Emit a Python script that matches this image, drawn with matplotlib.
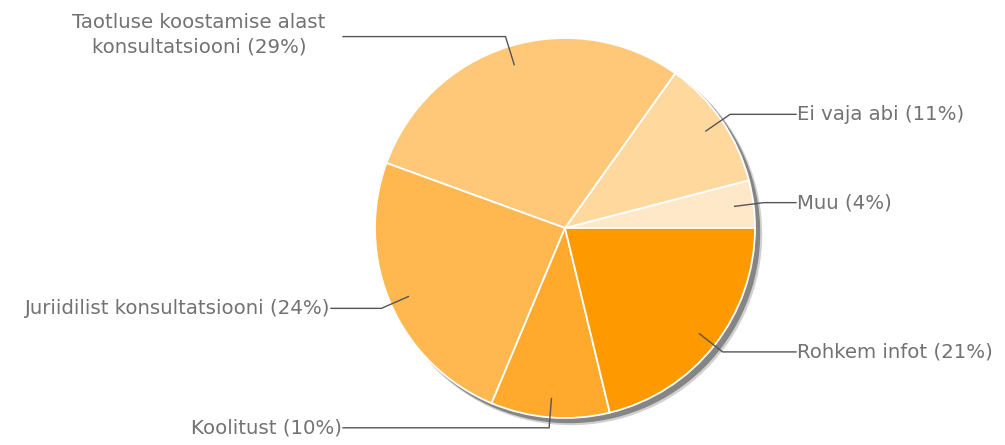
import numpy as np
import matplotlib
matplotlib.use("Agg")
import matplotlib.pyplot as plt
from matplotlib.patches import Circle

plt.rcParams["font.family"] = ["DejaVu Sans"]

# Data (counter-clockwise from 3 o'clock)
labels = ["Muu (4%)", "Ei vaja abi (11%)", "Taotluse koostamise alast\nkonsultatsiooni (29%)",
          "Juriidilist konsultatsiooni (24%)", "Koolitust (10%)", "Rohkem infot (21%)"]
values = [4, 11, 29, 24, 10, 21]
colors = ["#FFE8C8", "#FFD89E", "#FFC878", "#FFB850", "#FFAA2C", "#FF9900"]

W, H = 1005, 445
fig = plt.figure(figsize=(W / 100, H / 100), dpi=100)
ax = fig.add_axes([0, 0, 1, 1])

cx, cy, R = 565, H - 228, 190
FS = 14.2
TC = "#727272"

# shadow
ax.add_patch(Circle((cx + 6, cy - 6), R + 0.5, color="#d0d0d0", zorder=0))
ax.add_patch(Circle((cx + 4.5, cy - 4.5), R, color="#858585", zorder=0))

wedges, _ = ax.pie(values, colors=colors, startangle=0, counterclock=True,
                   center=(cx, cy), radius=R,
                   wedgeprops=dict(edgecolor="white", linewidth=1.3))
for w in wedges:
    w.set_zorder(2)

# label positions (layout)
label_x = {0: 797, 1: 797, 2: 333, 3: 330, 4: 342, 5: 797}
total = sum(values)
cum = 0
for i, v in enumerate(values):
    mid = np.deg2rad((cum + v / 2) / total * 360)
    cum += v
    x1, y1 = cx + 0.9 * R * np.cos(mid), cy + 0.9 * R * np.sin(mid)
    x2, y2 = cx + 1.055 * R * np.cos(mid), cy + 1.055 * R * np.sin(mid)
    right = np.cos(mid) > 0
    if right:
        x3 = label_x[i] - 1
        ha = "left"
    else:
        x3 = label_x[i] + (10 if i == 2 else 1)
        ha = "right"
    ax.plot([x1, x2, x3], [y1, y2, y2], color="#555555", lw=1.0, zorder=3,
            solid_joinstyle="miter")
    if i == 2:
        ax.text(199, H - 35, labels[i], ha="center", va="center", fontsize=FS,
                color=TC, linespacing=1.38, zorder=4)
    else:
        ax.text(label_x[i], y2, labels[i], ha=ha, va="center", fontsize=FS,
                color=TC, zorder=4)

ax.set_xlim(0, W)
ax.set_ylim(0, H)
ax.set_aspect("equal")
ax.axis("off")
fig.savefig("out.png", dpi=100, facecolor="white")
